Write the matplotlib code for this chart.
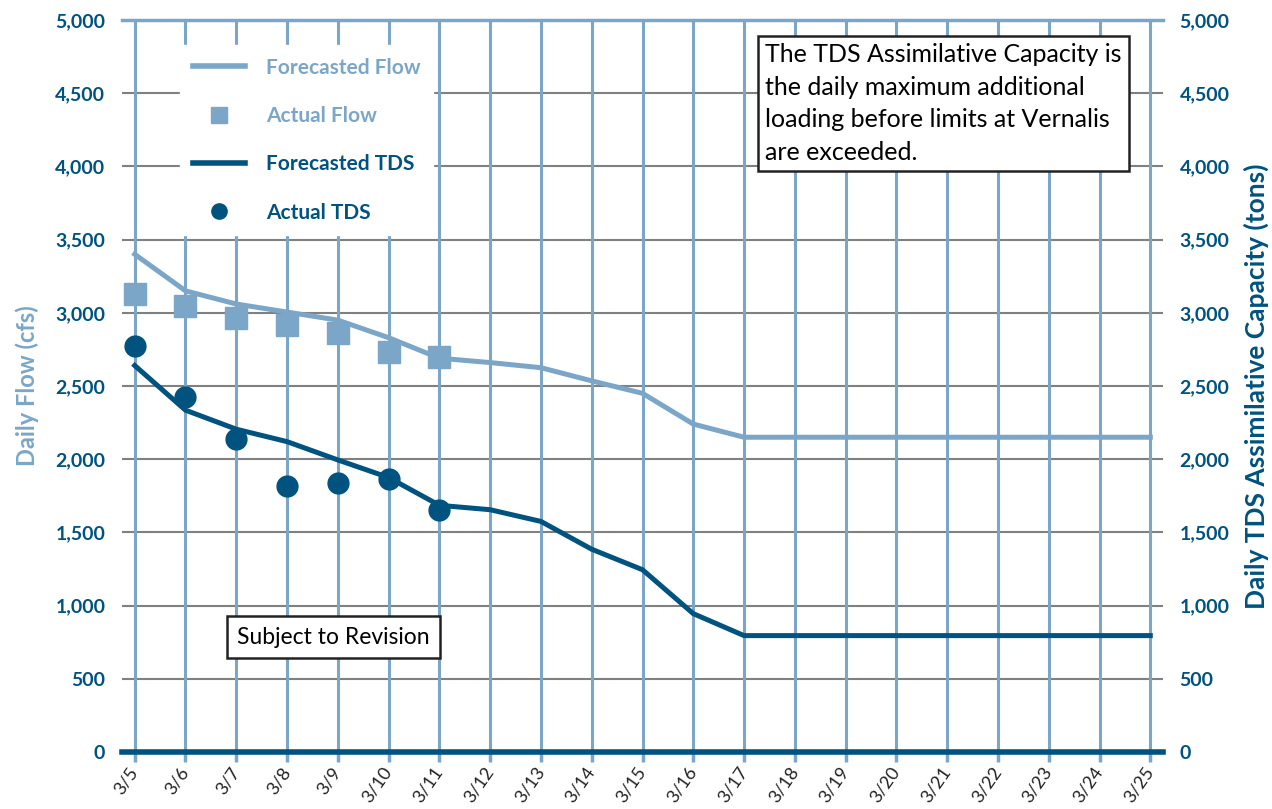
import matplotlib.pyplot as plt
import matplotlib.transforms as mtransforms
from matplotlib.lines import Line2D

plt.rcParams['font.family'] = ['Lato', 'DejaVu Sans']

LIGHT = '#7ba6c7'
DARK = '#00527f'
GRID = '#808080'

dates = ['3/5', '3/6', '3/7', '3/8', '3/9', '3/10', '3/11', '3/12', '3/13', '3/14',
         '3/15', '3/16', '3/17', '3/18', '3/19', '3/20', '3/21', '3/22', '3/23',
         '3/24', '3/25']
forecast_flow = [3400, 3150, 3060, 3005, 2950, 2830, 2690, 2660, 2625, 2535,
                 2450, 2240, 2150, 2150, 2150, 2150, 2150, 2150, 2150, 2150, 2150]
actual_flow = [3130, 3045, 2965, 2915, 2860, 2735, 2695]
forecast_tds = [2640, 2335, 2205, 2120, 1995, 1875, 1685, 1655, 1575, 1385,
                1245, 945, 795, 795, 795, 795, 795, 795, 795, 795, 795]
actual_tds = [2775, 2425, 2135, 1820, 1835, 1865, 1655]
yticks = [0, 500, 1000, 1500, 2000, 2500, 3000, 3500, 4000, 4500, 5000]

x = list(range(len(dates)))
xa = x[:len(actual_flow)]

fig = plt.figure(figsize=(12.72, 8.09), dpi=100)
ax = fig.add_axes([122 / 1272, 57 / 809, (1163 - 122) / 1272, (752 - 20) / 809])

ax.set_xlim(-0.25, 20.25)
ax.set_ylim(0, 5000)

# grid
for v in yticks[1:-1]:
    ax.axhline(v, color=GRID, lw=1.5, zorder=1)
for xi in x:
    ax.axvline(xi, color=LIGHT, lw=2.2, zorder=1)
ax.axhline(5000, color=LIGHT, lw=2.5, zorder=2, clip_on=False)
ax.axhline(0, color=DARK, lw=4, zorder=5, clip_on=False)

ax.plot(x, forecast_flow, color=LIGHT, lw=3.6, zorder=3)
ax.plot(xa, actual_flow, 's', color=LIGHT, ms=16, zorder=4)
ax.plot(x, forecast_tds, color=DARK, lw=3.6, zorder=3)
ax.plot(xa, actual_tds, 'o', color=DARK, ms=15, zorder=4)

for s in ax.spines.values():
    s.set_visible(False)

ax.set_xticks(x)
ax.set_xticklabels(dates, rotation=55, ha='right', va='center', rotation_mode='anchor',
                   fontsize=13, color='#222222')
shift = mtransforms.ScaledTranslation(7 / 100, 0, fig.dpi_scale_trans)
for lab in ax.get_xticklabels():
    lab.set_transform(lab.get_transform() + shift)
ax.tick_params(axis='x', length=7, width=2.5, color=LIGHT, pad=5)
ax.set_yticks(yticks)
ax.set_yticklabels([f'{v:,}' for v in yticks], fontsize=14, fontweight='bold', color=DARK)
ax.tick_params(axis='y', length=0, pad=12)
ax.set_ylabel('Daily Flow (cfs)', fontsize=17, fontweight='bold', color=LIGHT, labelpad=12)

ax2 = ax.twinx()
ax2.set_ylim(0, 5000)
ax2.set_yticks(yticks)
ax2.set_yticklabels([f'{v:,}' for v in yticks], fontsize=14, fontweight='bold', color=DARK)
ax2.tick_params(axis='y', length=0, pad=12)
for s in ax2.spines.values():
    s.set_visible(False)
ax2.set_ylabel('Daily TDS Assimilative Capacity (tons)', fontsize=19,
               fontweight='bold', color=DARK, labelpad=10)

handles = [
    Line2D([], [], color=LIGHT, lw=4),
    Line2D([], [], color=LIGHT, marker='s', ls='none', ms=11),
    Line2D([], [], color=DARK, lw=4),
    Line2D([], [], color=DARK, marker='o', ls='none', ms=11),
]
labels = ['Forecasted Flow', 'Actual Flow', 'Forecasted TDS', 'Actual TDS']
leg = ax.legend(handles, labels, loc='upper left', bbox_to_anchor=(0.046, 0.98),
                frameon=True, facecolor='white', edgecolor='white', framealpha=1,
                labelspacing=1.36, handlelength=2.5, handletextpad=1.0,
                borderpad=0.6, labelcolor='linecolor', prop={'weight': 'bold', 'size': 15})
leg.set_zorder(6)

ax.text(0.6177, 0.968, 'The TDS Assimilative Capacity is\nthe daily maximum additional\n'
        'loading before limits at Vernalis\nare exceeded.', transform=ax.transAxes,
        ha='left', va='top', fontsize=18, linespacing=1.5, zorder=7,
        bbox=dict(boxstyle='square,pad=0.3', facecolor='white', edgecolor='#222222', lw=1.8))

ax.text(0.1105, 0.157, 'Subject to Revision', transform=ax.transAxes,
        ha='left', va='center', fontsize=16.5, zorder=7,
        bbox=dict(boxstyle='square,pad=0.45', facecolor='white', edgecolor='#222222', lw=1.8))

fig.savefig('out.png', dpi=100)
